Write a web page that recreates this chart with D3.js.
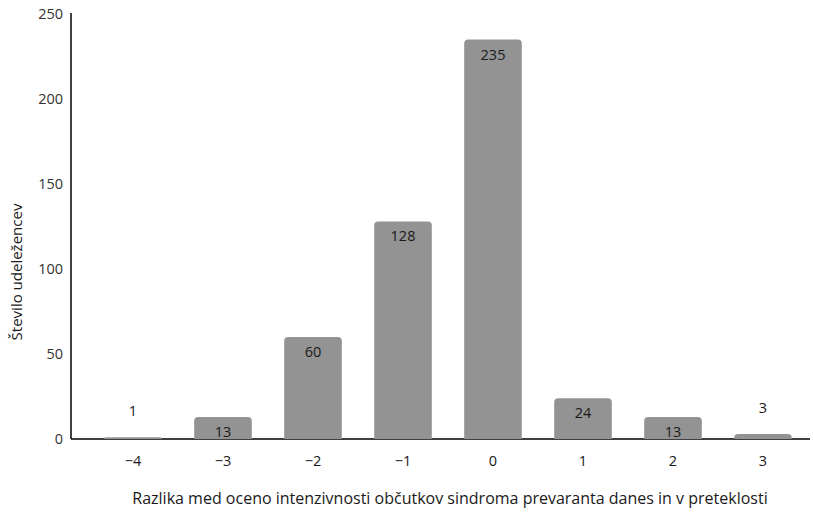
<!DOCTYPE html>
<html>
<head>
<meta charset="utf-8">
<script src="https://cdn.jsdelivr.net/npm/d3@7"></script>
<style>
  body { margin: 0; background: #fff; }
  text { font-family: "Open Sans", sans-serif; }
</style>
</head>
<body>
<div id="main"></div>
<script>
const ctx = {
    WIDTH: 813,
    HEIGHT: 513
}

// Data
const categories = ["−4", "−3", "−2", "−1", "0", "1", "2", "3"];
const counts = [1, 13, 60, 128, 235, 24, 13, 3];
const yTicks = [0, 50, 100, 150, 200, 250];
const xTitle = "Razlika med oceno intenzivnosti občutkov sindroma prevaranta danes in v preteklosti";
const yTitle = "Število udeležencev";

function drawChart() {
  const svg = d3.select("#main").append("svg")
      .attr("width", ctx.WIDTH)
      .attr("height", ctx.HEIGHT);

  const axisLeft = 71;
  const x = d3.scaleBand()
      .domain(categories)
      .range([88, 808])
      .paddingInner(0.36)
      .paddingOuter(0.18);

  const y = d3.scaleLinear()
      .domain([0, 250])
      .range([439, 14]);

  // y axis line and tick labels
  svg.append("line")
      .attr("x1", axisLeft).attr("x2", axisLeft)
      .attr("y1", y(250) - 1).attr("y2", y(0))
      .attr("stroke", "#000").attr("stroke-width", 1.5);

  svg.append("g").selectAll("text")
      .data(yTicks)
      .enter().append("text")
      .attr("x", axisLeft - 8)
      .attr("y", d => y(d))
      .attr("dy", "0.35em")
      .attr("text-anchor", "end")
      .style("font-size", "14.5px")
      .style("fill", "#333")
      .text(d => d);

  // x axis line
  svg.append("line")
      .attr("x1", axisLeft).attr("x2", 810)
      .attr("y1", y(0)).attr("y2", y(0))
      .attr("stroke", "#000").attr("stroke-width", 1.5);

  // bars
  const bars = svg.append("g").selectAll("g")
      .data(categories.map((c, i) => ({cat: c, value: counts[i]})))
      .enter().append("g");

  bars.append("path")
      .attr("fill", "#939393")
      .attr("d", d => {
        const x0 = x(d.cat), w = x.bandwidth();
        const top = y(d.value), bottom = y(0);
        const r = Math.min(4, (bottom - top));
        return `M${x0},${bottom} L${x0},${top + r} Q${x0},${top} ${x0 + r},${top}` +
               ` L${x0 + w - r},${top} Q${x0 + w},${top} ${x0 + w},${top + r} L${x0 + w},${bottom} Z`;
      });

  bars.append("text")
      .attr("x", d => x(d.cat) + x.bandwidth() / 2)
      .attr("y", d => d.value < 5 ? y(d.value) - 26 : y(d.value) + 15)
      .attr("dy", "0.35em")
      .attr("text-anchor", "middle")
      .style("font-size", "14.5px")
      .style("fill", "#1a1a1a")
      .text(d => d.value);

  // x tick labels
  svg.append("g").selectAll("text")
      .data(categories)
      .enter().append("text")
      .attr("x", d => x(d) + x.bandwidth() / 2)
      .attr("y", 461)
      .attr("dy", "0.35em")
      .attr("text-anchor", "middle")
      .style("font-size", "14.5px")
      .style("fill", "#1a1a1a")
      .text(d => d);

  // axis titles
  svg.append("text")
      .attr("x", 450)
      .attr("y", 498)
      .attr("dy", "0.35em")
      .attr("text-anchor", "middle")
      .style("font-size", "16px")
      .style("fill", "#1a1a1a")
      .text(xTitle);

  svg.append("text")
      .attr("transform", `translate(17,272) rotate(-90)`)
      .attr("dy", "0.35em")
      .attr("text-anchor", "middle")
      .style("font-size", "15px")
      .style("fill", "#1a1a1a")
      .text(yTitle);
}

drawChart();
</script>
</body>
</html>
